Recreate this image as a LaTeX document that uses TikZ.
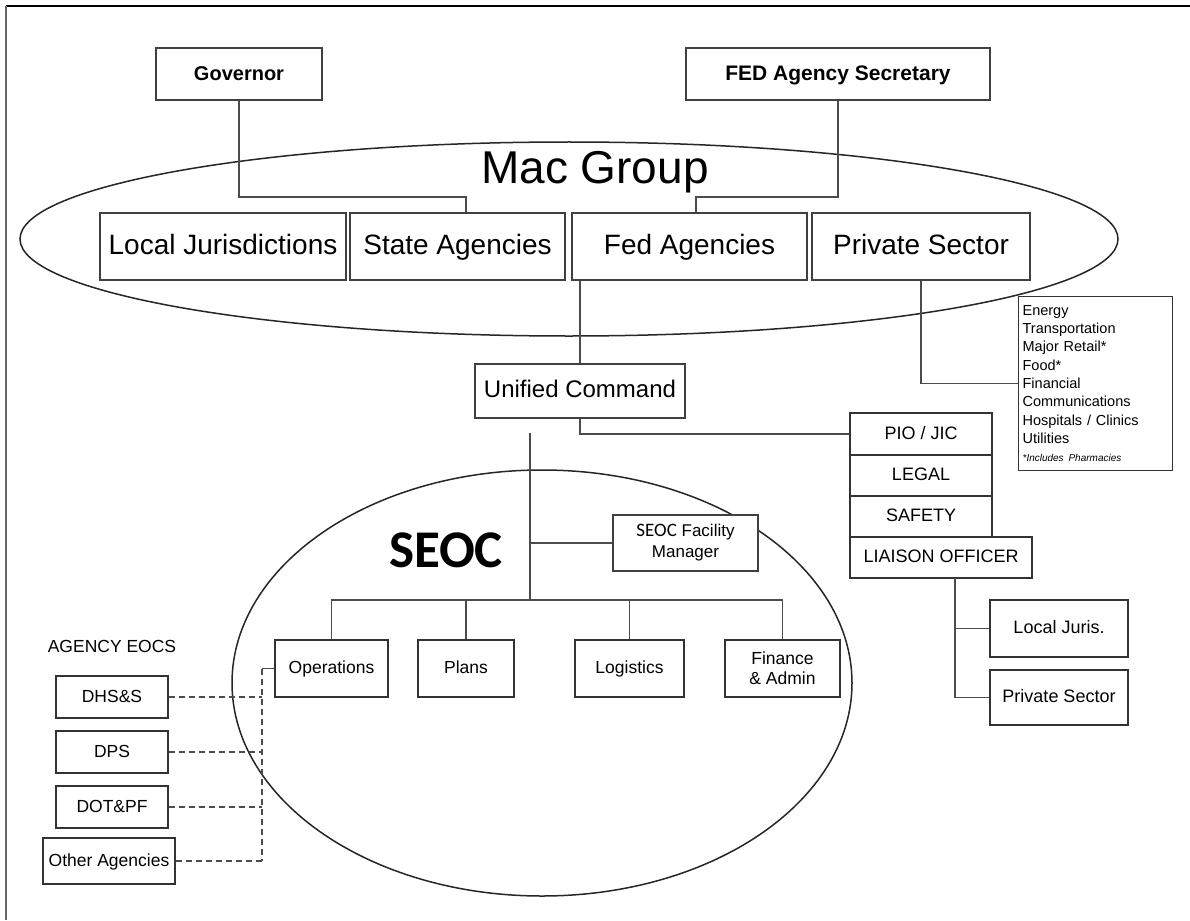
\documentclass[tikz,border=0pt]{standalone}
\usepackage{fontspec}
\setmainfont{Liberation Sans}
\newfontfamily\calfont{Carlito}
\begin{document}
\begin{tikzpicture}[x=1pt,y=-1pt,
  bigbox/.style={draw=black!75, line width=2.6pt, inner sep=0pt, fill=white},
  midbox/.style={draw=black!75, line width=2pt, inner sep=0pt, fill=white},
  smallbox/.style={draw=black!80, line width=1.2pt, inner sep=0pt, fill=white, align=center},
  conn/.style={draw=black!70, line width=1.2pt},
  dconn/.style={draw=black!70, line width=1.2pt, dash pattern=on 6pt off 4pt},
  ell/.style={draw=black!85, line width=1.5pt},
  fbig/.style={font=\fontsize{28}{32}\selectfont, text height=20pt, text depth=4pt},
  fmid/.style={font=\fontsize{18}{21}\selectfont, text height=13pt, text depth=2.5pt},
  fsm/.style={font=\fontsize{17.5}{20}\selectfont, text height=12.6pt, text depth=2.5pt},
  fsmm/.style={font=\fontsize{17.5}{20}\selectfont}]
\useasboundingbox (0,0) rectangle (1190,920);
\draw[line width=1.8pt] (6,6) -- (1190,6);
\draw[line width=1.2pt, black!60] (6,6) -- (6,920);

% Mac group ellipse
\draw[ell] (569,239) ellipse [x radius=549, y radius=97];
\node[font=\fontsize{46}{50}\selectfont] (mac) at (595,172) {Mac Group};

% top boxes
\node[bigbox, minimum width=166, minimum height=52, font=\fontsize{20}{24}\selectfont\bfseries, text height=14.5pt, text depth=1.5pt] (gov) at (239,74) {Governor};
\node[bigbox, minimum width=304, minimum height=52, font=\fontsize{21}{24}\selectfont\bfseries, text height=15.2pt, text depth=3pt] (fed) at (838,74) {FED Agency Secretary};

\node[midbox, fbig, minimum width=246, minimum height=67] (lj) at (223,246.5) {Local Jurisdictions};
\node[midbox, fbig, minimum width=215, minimum height=67] (sa) at (457.5,246.5) {State Agencies};
\node[midbox, fbig, minimum width=235, minimum height=67] (fa) at (689.5,246.5) {Fed Agencies};
\node[midbox, fbig, minimum width=218, minimum height=67] (ps) at (921,246.5) {Private Sector};

\coordinate (gdrop) at ([xshift=8.5]sa.north);
\coordinate (fdrop) at ([xshift=6.5]fa.north);
\draw[conn] (gov.south) -- (gov.south |- 0,197) -| (gdrop);
\draw[conn] (fed.south) -- (fed.south |- 0,197) -| (fdrop);

% unified command
\node[midbox, minimum width=210, minimum height=54, font=\fontsize{24}{28}\selectfont, text height=17.3pt, text depth=3.5pt] (uc) at (580,391) {Unified Command};
\draw[conn] (uc.north |- fa.south) -- (uc.north);

% private sector list
\node[smallbox, minimum width=154, minimum height=174, align=left, anchor=north west, text width=146, inner sep=4pt,
      font=\fontsize{14.5}{18.3}\selectfont] (list) at (1018,296)
 {Energy\\Transportation\\Major Retail*\\Food*\\Financial\\Communications\\Hospitals / Clinics\\Utilities\\{\fontsize{10}{12}\selectfont\itshape *Includes Pharmacies}};
\draw[conn] (ps.south) |- (list.west);

% command staff
\node[smallbox, fmid, minimum width=142, minimum height=42] (pio) at (921,434) {PIO / JIC};
\node[smallbox, fmid, minimum width=142, minimum height=41] (legal) at (921,475.5) {LEGAL};
\node[smallbox, fmid, minimum width=142, minimum height=41] (safety) at (921,516.5) {SAFETY};
\node[smallbox, fmid, minimum width=182, minimum height=41] (liaison) at (941,557.5) {LIAISON OFFICER};

\node[smallbox, fmid, minimum width=138, minimum height=57] (lju) at (1059,628.5) {Local Juris.};
\node[smallbox, fmid, minimum width=138, minimum height=55] (pss) at (1059,697.5) {Private Sector};
\coordinate (ltop) at (955,578);
\draw[conn] (ltop) |- (pss.west);
\draw[conn] (lju.west -| ltop) -- (lju.west);

% SEOC ellipse
\draw[ell] (542,683) ellipse [x radius=310, y radius=213];
\node[font=\calfont\bfseries\fontsize{53}{56}\selectfont] (seoc) at (446,550) {SEOC};

\draw[conn] (uc.south) |- (pio.west);
\coordinate (trunk) at (530,433);
\coordinate (branch) at (530,600);
\draw[conn] (trunk) -- (branch);

\node[midbox, line width=2.2pt, minimum width=145, minimum height=56, align=center,
      font=\fontsize{17}{21}\selectfont] (fm) at (685.5,543)
 {{\calfont\fontsize{19}{21}\selectfont SEOC} Facility\\Manager};
\draw[conn] (fm.west -| trunk) -- (fm.west);

\node[smallbox, fsm, minimum width=113, minimum height=57] (ops) at (331.5,668.5) {Operations};
\node[smallbox, fsm, minimum width=96, minimum height=57] (plans) at (466,668.5) {Plans};
\node[smallbox, fsm, minimum width=109, minimum height=57] (logi) at (629.5,668.5) {Logistics};
\node[smallbox, fsmm, minimum width=115, minimum height=57] (fin) at (782.5,668.5) {Finance\\\& Admin};

\draw[conn] (ops.north) |- (branch) -| (fin.north);
\draw[conn] (plans.north |- branch) -- (plans.north);
\draw[conn] (logi.north |- branch) -- (logi.north);

% agency EOCs
\node[fsmm] (aeoc) at (112,646) {AGENCY EOCS};
\node[smallbox, fsm, minimum width=112, minimum height=42] (dhs) at (112,697) {DHS\&S};
\node[smallbox, fsm, minimum width=112, minimum height=42] (dps) at (112,752) {DPS};
\node[smallbox, fsm, minimum width=112, minimum height=42] (dot) at (112,807) {DOT\&PF};
\node[smallbox, fsm, minimum width=132, minimum height=46] (oth) at (109,861) {Other Agencies};

\coordinate (opsbend) at (262,668.5);
\draw[conn] (ops.west) -- (opsbend);
\draw[dconn] (opsbend) -- (oth.east -| opsbend);
\draw[dconn] (dhs.east) -- (dhs.east -| opsbend);
\draw[dconn] (dps.east) -- (dps.east -| opsbend);
\draw[dconn] (dot.east) -- (dot.east -| opsbend);
\draw[dconn] (oth.east) -- (oth.east -| opsbend);
\end{tikzpicture}
\end{document}
